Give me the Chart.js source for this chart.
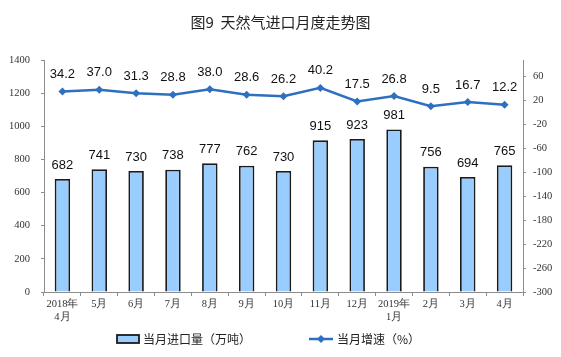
<!DOCTYPE html>
<html>
<head>
<meta charset="utf-8">
<script src="https://cdn.jsdelivr.net/npm/chart.js@4"></script>
<style>
  html, body { margin: 0; padding: 0; background: #fff; }
  #wrap { width: 561px; height: 357px; position: relative; }
</style>
</head>
<body>
<div id="wrap"><canvas id="c" width="561" height="357"></canvas></div>
<script>
// ---- data ----
const categories = [["2018年","4月"],"5月","6月","7月","8月","9月","10月","11月","12月",["2019年","1月"],"2月","3月","4月"];
const importVolume = [682, 741, 730, 738, 777, 762, 730, 915, 923, 981, 756, 694, 765];
const growthRate = [34.2, 37.0, 31.3, 28.8, 38.0, 28.6, 26.2, 40.2, 17.5, 26.8, 9.5, 16.7, 12.2];
const leftTicks = [0, 200, 400, 600, 800, 1000, 1200, 1400];
const rightTicks = [-300, -260, -220, -180, -140, -100, -60, -20, 20, 60];
const titleText = "图9  天然气进口月度走势图";
const seriesNames = ["当月进口量（万吨）", "当月增速（%）"];

const BAR_FILL = "#99ccff";
const BAR_EDGE = "#1b1b1b";
const LINE_COLOR = "#2f6fc0";
const AXIS_COLOR = "#8c8c8c";
const TICK_FONT = { family: "'Liberation Serif', 'DejaVu Serif', serif", size: 10.5 };

const valueLabels = {
  id: "valueLabels",
  afterDatasetsDraw(chart) {
    const ctx = chart.ctx;
    ctx.save();
    ctx.fillStyle = "#111";
    ctx.font = "13px 'Liberation Sans', Arial, sans-serif";
    ctx.textAlign = "center";
    ctx.textBaseline = "middle";
    chart.data.datasets.forEach((ds, di) => {
      const meta = chart.getDatasetMeta(di);
      const off = ds.type === "line" ? 17 : 14;
      meta.data.forEach((el, i) => {
        const v = ds.data[i];
        const txt = ds.type === "line" ? v.toFixed(1) : String(v);
        ctx.fillText(txt, el.x, el.y - off);
      });
    });
    ctx.restore();
  }
};

const customLegend = {
  id: "customLegend",
  afterDraw(chart) {
    const ctx = chart.ctx;
    const y = 339;
    ctx.save();
    // bar item
    ctx.fillStyle = BAR_FILL;
    ctx.strokeStyle = BAR_EDGE;
    ctx.lineWidth = 1.8;
    ctx.fillRect(117, y - 4, 22, 8);
    ctx.strokeRect(117, y - 4, 22, 8);
    ctx.fillStyle = "#222";
    ctx.font = "12px 'Noto Sans CJK SC', sans-serif";
    ctx.textAlign = "left";
    ctx.textBaseline = "middle";
    ctx.fillText(seriesNames[0], 143, y);
    // line item
    ctx.strokeStyle = LINE_COLOR;
    ctx.lineWidth = 2.5;
    ctx.beginPath();
    ctx.moveTo(309, y);
    ctx.lineTo(333, y);
    ctx.stroke();
    ctx.fillStyle = LINE_COLOR;
    ctx.beginPath();
    ctx.moveTo(321, y - 4); ctx.lineTo(325, y); ctx.lineTo(321, y + 4); ctx.lineTo(317, y);
    ctx.closePath(); ctx.fill();
    ctx.fillStyle = "#222";
    ctx.fillText(seriesNames[1], 337, y);
    ctx.restore();
  }
};

new Chart(document.getElementById("c"), {
  data: {
    labels: categories,
    datasets: [
      {
        type: "line",
        label: seriesNames[1],
        data: growthRate,
        yAxisID: "y1",
        borderColor: LINE_COLOR,
        backgroundColor: LINE_COLOR,
        borderWidth: 2.5,
        pointStyle: "rectRot",
        pointRadius: 4,
        pointBorderWidth: 0,
        tension: 0,
        order: 0
      },
      {
        type: "bar",
        label: seriesNames[0],
        data: importVolume,
        yAxisID: "y",
        backgroundColor: BAR_FILL,
        borderColor: BAR_EDGE,
        borderWidth: 1.8,
        barPercentage: 0.42,
        categoryPercentage: 1,
        order: 1
      }
    ]
  },
  options: {
    responsive: false,
    animation: false,
    devicePixelRatio: 1,
    layout: { padding: { left: 0, right: 0, top: 0, bottom: 35 } },
    plugins: {
      legend: { display: false },
      tooltip: { enabled: false },
      title: {
        display: true,
        text: titleText,
        color: "#222",
        font: { family: "'Noto Sans CJK SC', sans-serif", size: 15, weight: "normal", lineHeight: 1.2 },
        padding: { top: 13, bottom: 29 }
      }
    },
    scales: {
      x: {
        type: "category",
        offset: true,
        grid: { display: true, drawOnChartArea: false, offset: true, tickLength: 4, color: AXIS_COLOR },
        border: { display: true, color: AXIS_COLOR, width: 1 },
        ticks: { color: "#333", font: { ...TICK_FONT, lineHeight: 1.25 }, maxRotation: 0, autoSkip: false, padding: 2 },
        afterFit(s) { s.height = 30; }
      },
      y: {
        position: "left",
        min: 0, max: 1400,
        afterBuildTicks(s) { s.ticks = leftTicks.map(v => ({ value: v })); },
        grid: { display: true, drawOnChartArea: false, tickLength: 3, color: AXIS_COLOR },
        border: { display: true, color: AXIS_COLOR, width: 1 },
        ticks: { color: "#333", font: TICK_FONT, padding: 11, callback: v => String(v) },
        afterFit(s) { s.width = 44; }
      },
      y1: {
        position: "right",
        min: -300, max: 86.7,
        afterBuildTicks(s) { s.ticks = rightTicks.map(v => ({ value: v })); },
        grid: { display: true, drawOnChartArea: false, tickLength: 3, color: AXIS_COLOR },
        border: { display: true, color: AXIS_COLOR, width: 1 },
        ticks: { color: "#333", font: TICK_FONT, padding: 7, callback: v => String(v) },
        afterFit(s) { s.width = 38; }
      }
    }
  },
  plugins: [valueLabels, customLegend]
});
</script>
</body>
</html>
